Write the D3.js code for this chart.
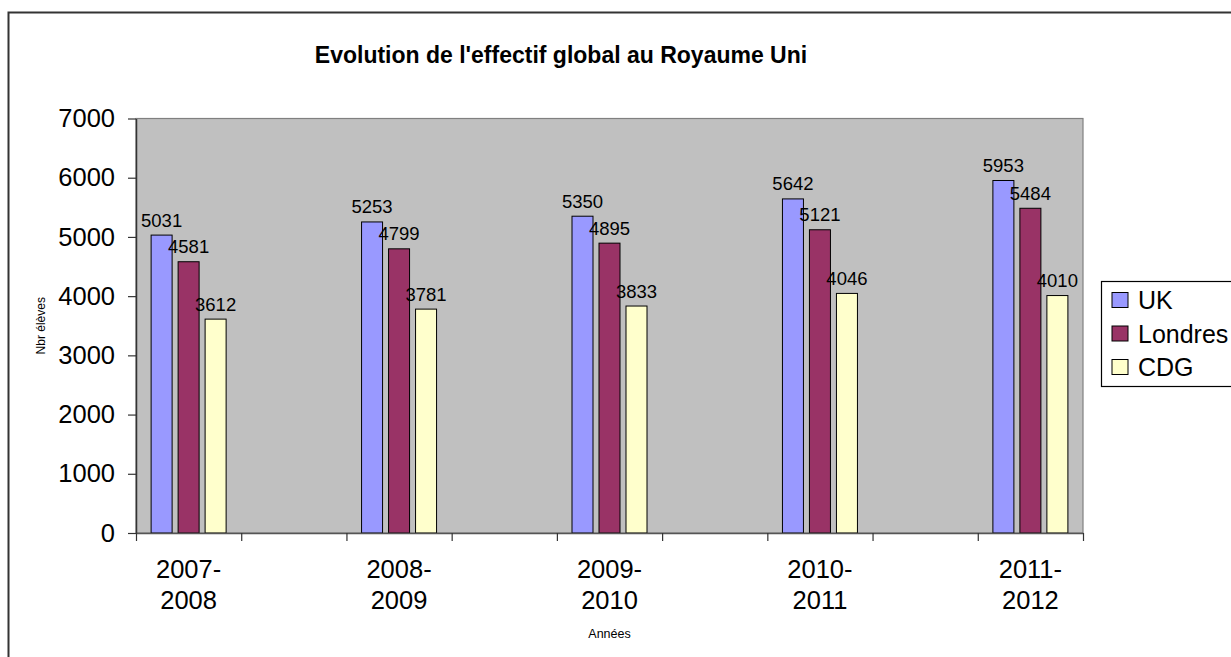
<!DOCTYPE html>
<html>
<head>
<meta charset="utf-8">
<script src="https://cdn.jsdelivr.net/npm/d3@7"></script>
<style>
	body { margin: 0; background: #fff; }
	svg { font-family: Arial, "Liberation Sans", sans-serif; }
</style>
</head>
<body>
<script>
//chart data (blank slots are the empty categories between the school years)
var categories = ["2007-2008", "", "2008-2009", "", "2009-2010", "", "2010-2011", "", "2011-2012"];
var seriesNames = ["UK", "Londres", "CDG"];
var ukValues = [5031, null, 5253, null, 5350, null, 5642, null, 5953];
var londresValues = [4581, null, 4799, null, 4895, null, 5121, null, 5484];
var cdgValues = [3612, null, 3781, null, 3833, null, 4046, null, 4010];
var yTicks = [0, 1000, 2000, 3000, 4000, 5000, 6000, 7000];

var colors = {"UK": "#9999FF", "Londres": "#993366", "CDG": "#FFFFCC"};
var seriesValues = {"UK": ukValues, "Londres": londresValues, "CDG": cdgValues};

var W = 1231, H = 657;
var plot = {left: 136, right: 1083, top: 118.5, bottom: 533};

var svg = d3.select("body").append("svg")
	.attr("width", W)
	.attr("height", H);

//outer frame of the chart
svg.append("rect")
	.attr("x", 8.5).attr("y", 12.5)
	.attr("width", W + 20).attr("height", H + 20)
	.style("fill", "#fff")
	.style("stroke", "#333")
	.style("stroke-width", 2);

//title
svg.append("text")
	.attr("x", 561).attr("y", 63)
	.style("text-anchor", "middle")
	.style("font-weight", "bold")
	.style("font-size", "23px")
	.text("Evolution de l'effectif global au Royaume Uni");

//scales
var xCat = d3.scaleBand()
	.domain(d3.range(categories.length))
	.range([plot.left, plot.right]);
var xEdge = d3.scaleLinear()
	.domain([0, categories.length])
	.range([plot.left, plot.right]);
var xBar = d3.scaleBand()
	.domain(seriesNames)
	.range([0, 75])
	.paddingInner(6 / 27);
var groupOffset = (xCat.bandwidth() - 75) / 2;
var yScale = d3.scaleLinear()
	.domain([0, 7000])
	.range([plot.bottom, plot.top]);

//plot area
svg.append("rect")
	.attr("x", plot.left).attr("y", plot.top)
	.attr("width", plot.right - plot.left)
	.attr("height", plot.bottom - plot.top)
	.style("fill", "#C0C0C0")
	.style("stroke", "#808080")
	.style("stroke-width", 1.2);

//bars
var rows = [];
categories.forEach(function(c, i){
	seriesNames.forEach(function(s){
		var v = seriesValues[s][i];
		if (v !== null) rows.push({cat: i, series: s, value: v});
	});
});

svg.append("g").selectAll("rect")
	.data(rows).enter()
		.append("rect")
		.attr("x", function(d) { return xCat(d.cat) + groupOffset + xBar(d.series); })
		.attr("y", function(d) { return yScale(d.value); })
		.attr("width", xBar.bandwidth())
		.attr("height", function(d) { return yScale(0) - yScale(d.value); })
		.style("fill", function(d) { return colors[d.series]; })
		.style("stroke", "#000")
		.style("stroke-width", 1);

//value labels
svg.append("g").selectAll("text")
	.data(rows).enter()
		.append("text")
		.attr("x", function(d) { return xCat(d.cat) + groupOffset + xBar(d.series) + xBar.bandwidth() / 2; })
		.attr("y", function(d) { return yScale(d.value) - 8.5; })
		.style("text-anchor", "middle")
		.style("font-size", "18.5px")
		.text(function(d) { return d.value; });

//y axis
var gY = svg.append("g")
	.attr("transform", "translate(" + plot.left + ",0)")
	.call(d3.axisLeft(yScale).tickValues(yTicks).tickFormat(d3.format("d"))
		.tickSize(8).tickPadding(13).tickSizeOuter(0));
gY.select(".domain").style("stroke", "#333").style("stroke-width", 1.5);
gY.selectAll(".tick line").style("stroke", "#333").style("stroke-width", 1.2);
gY.selectAll(".tick text")
	.style("font-size", "25.5px")
	.style("fill", "#000")
	.attr("font-family", null);

//x axis (ticks on category edges)
var gX = svg.append("g")
	.attr("transform", "translate(0," + plot.bottom + ")")
	.call(d3.axisBottom(xEdge).tickValues(d3.range(categories.length + 1)).tickSize(8).tickSizeOuter(0).tickFormat(""));
gX.select(".domain").style("stroke", "#555").style("stroke-width", 1.5);
gX.selectAll(".tick line").style("stroke", "#333").style("stroke-width", 1.2);

//x labels on two lines
var xLabels = svg.append("g").selectAll("text")
	.data(categories).enter()
		.append("text")
		.style("text-anchor", "middle")
		.style("font-size", "25.5px");
xLabels.append("tspan")
	.attr("x", function(d, i) { return xCat(i) + xCat.bandwidth() / 2; })
	.attr("y", 578)
	.text(function(d) { return d ? d.split("-")[0] + "-" : ""; });
xLabels.append("tspan")
	.attr("x", function(d, i) { return xCat(i) + xCat.bandwidth() / 2; })
	.attr("y", 609)
	.text(function(d) { return d ? d.split("-")[1] : ""; });

//axis titles
svg.append("text")
	.attr("x", (plot.left + plot.right) / 2)
	.attr("y", 638)
	.style("text-anchor", "middle")
	.style("font-size", "12.5px")
	.text("Années");
svg.append("text")
	.attr("transform", "translate(45," + ((plot.top + plot.bottom) / 2) + ") rotate(-90)")
	.style("text-anchor", "middle")
	.style("font-size", "12px")
	.text("Nbr élèves");

//legend
var legend = svg.append("g");
legend.append("rect")
	.attr("x", 1101.5).attr("y", 281.5)
	.attr("width", 200).attr("height", 105)
	.style("fill", "#fff")
	.style("stroke", "#000")
	.style("stroke-width", 1.2);
seriesNames.forEach(function(s, j){
	var yb = 309 + j * 33.5;
	legend.append("rect")
		.attr("x", 1112).attr("y", yb - 16.5)
		.attr("width", 16).attr("height", 15)
		.style("fill", colors[s])
		.style("stroke", "#000")
		.style("stroke-width", 1);
	legend.append("text")
		.attr("x", 1138).attr("y", yb)
		.style("font-size", "25px")
		.text(s);
});
</script>
</body>
</html>
